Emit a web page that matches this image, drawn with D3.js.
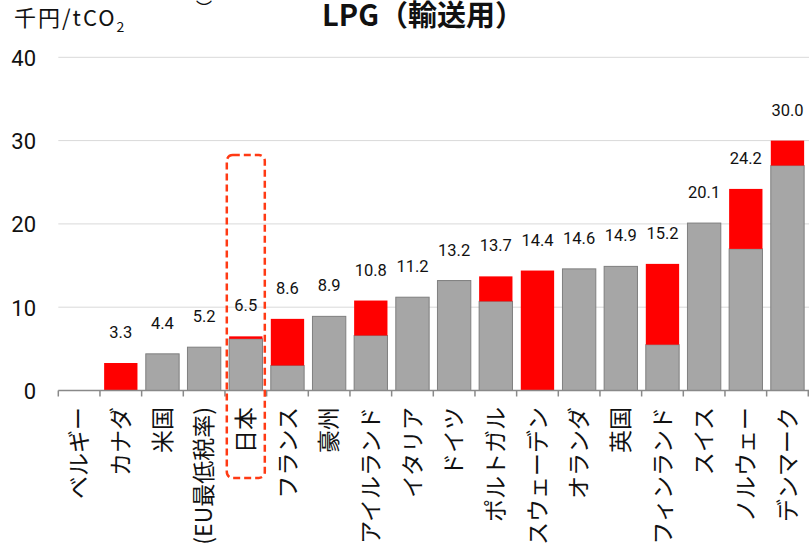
<!DOCTYPE html>
<html><head><meta charset="utf-8">
<script src="https://cdn.jsdelivr.net/npm/d3@7"></script>
<style>
html,body{margin:0;padding:0;background:#fff;}
svg{display:block;font-family:"Noto Sans CJK JP","Noto Sans",sans-serif;}
</style></head>
<body><svg id="c" width="809" height="558"></svg>
<script>
const categories = ["ベルギー","カナダ","米国","(EU最低税率)","日本","フランス","豪州","アイルランド","イタリア","ドイツ","ポルトガル","スウェーデン","オランダ","英国","フィンランド","スイス","ノルウェー","デンマーク"];
const grayValues = [0, 0, 4.4, 5.2, 6.2, 3.0, 8.9, 6.6, 11.2, 13.2, 10.7, 0, 14.6, 14.9, 5.5, 20.1, 17.0, 27.0];
const redValues  = [0, 3.3, 0, 0, 0.3, 5.6, 0, 4.2, 0, 0, 3.0, 14.4, 0, 0, 9.7, 0, 7.2, 3.0];
const totalLabels = ["", "3.3","4.4","5.2","6.5","8.6","8.9","10.8","11.2","13.2","13.7","14.4","14.6","14.9","15.2","20.1","24.2","30.0"];
const yTicks = [0, 10, 20, 30, 40];
const titleText = "LPG（輸送用）";
const highlight = "日本";

const svg = d3.select("#c");
const x = d3.scaleBand().domain(categories).range([58.3, 808.3]).paddingInner(0.2).paddingOuter(0.1);
const y = d3.scaleLinear().domain([0, 40]).range([390.5, 57.3]);
const step = x.step();
const x0 = 58.3;

// gridlines
svg.append("g").selectAll("line").data(yTicks.filter(d => d > 0)).join("line")
  .attr("x1", x0).attr("x2", 809).attr("y1", d => y(d)).attr("y2", d => y(d))
  .attr("stroke", "#d9d9d9").attr("stroke-width", 1);

// y tick labels
svg.append("g").selectAll("text").data(yTicks).join("text")
  .attr("x", 36).attr("y", d => y(d)).attr("dy", "0.38em")
  .attr("text-anchor", "end").attr("font-size", 22).attr("fill", "#111")
  .attr("font-family", "Roboto, 'Liberation Sans', sans-serif")
  .text(d => d);

// stacked bars
const rows = categories.map((c, i) => ({c, g: grayValues[i], r: redValues[i], t: totalLabels[i]}));
const bars = svg.append("g");
bars.selectAll("rect.g").data(rows.filter(d => d.g > 0)).join("rect").attr("class", "g")
  .attr("x", d => x(d.c)).attr("width", x.bandwidth())
  .attr("y", d => y(d.g)).attr("height", d => y(0) - y(d.g))
  .attr("fill", "#a6a6a6").attr("stroke", "#7f7f7f").attr("stroke-width", 1);
bars.selectAll("rect.r").data(rows.filter(d => d.r > 0)).join("rect").attr("class", "r")
  .attr("x", d => x(d.c)).attr("width", x.bandwidth())
  .attr("y", d => y(d.g + d.r)).attr("height", d => y(d.g) - y(d.g + d.r))
  .attr("fill", "#ff0000");

// value labels
svg.append("g").selectAll("text").data(rows).join("text")
  .attr("x", d => x(d.c) + x.bandwidth() / 2).attr("y", d => y(d.g + d.r) - 25)
  .attr("text-anchor", "middle").attr("font-size", 16.5).attr("fill", "#111")
  .attr("font-family", "Roboto, 'Liberation Sans', sans-serif")
  .text(d => d.t);

// x axis line and ticks
svg.append("line").attr("x1", x0).attr("x2", 809).attr("y1", y(0)).attr("y2", y(0))
  .attr("stroke", "#898989").attr("stroke-width", 1.5);
svg.append("g").selectAll("line").data(d3.range(categories.length + 1)).join("line")
  .attr("x1", i => x0 + i * step).attr("x2", i => x0 + i * step)
  .attr("y1", y(0)).attr("y2", y(0) + 6)
  .attr("stroke", "#898989").attr("stroke-width", 1.5);

// x labels rotated
svg.append("g").selectAll("text").data(categories).join("text")
  .attr("transform", d => `translate(${x(d) + x.bandwidth() / 2},407) rotate(-90)`)
  .attr("text-anchor", "end").attr("dy", "0.36em")
  .attr("font-size", 23).attr("fill", "#111")
  .text(d => d);

// highlight box for Japan
const hx = x(highlight) + x.bandwidth() / 2;
svg.append("rect").attr("x", hx - 19).attr("y", 155).attr("width", 38).attr("height", 323)
  .attr("rx", 6).attr("fill", "none").attr("stroke", "#ff3a14").attr("stroke-width", 2.5)
  .attr("stroke-dasharray", "7,4");

// unit label
const u = svg.append("text").attr("x", 14).attr("y", 26).attr("font-size", 22).attr("letter-spacing", 2).attr("fill", "#111");
u.append("tspan").text("千円/tCO");
u.append("tspan").attr("font-size", 14).attr("dy", 6).text("2");

// clipped fragment at top (vertical text)
svg.append("text").attr("x", 204).attr("y", 16).attr("writing-mode", "vertical-rl")
  .attr("text-anchor", "end").attr("font-size", 16).attr("fill", "#111").text("日）");

// title
svg.append("text").attr("x", 423).attr("y", 26).attr("text-anchor", "middle")
  .attr("font-size", 29).attr("font-weight", "bold").attr("fill", "#111").text(titleText);
</script></body></html>
